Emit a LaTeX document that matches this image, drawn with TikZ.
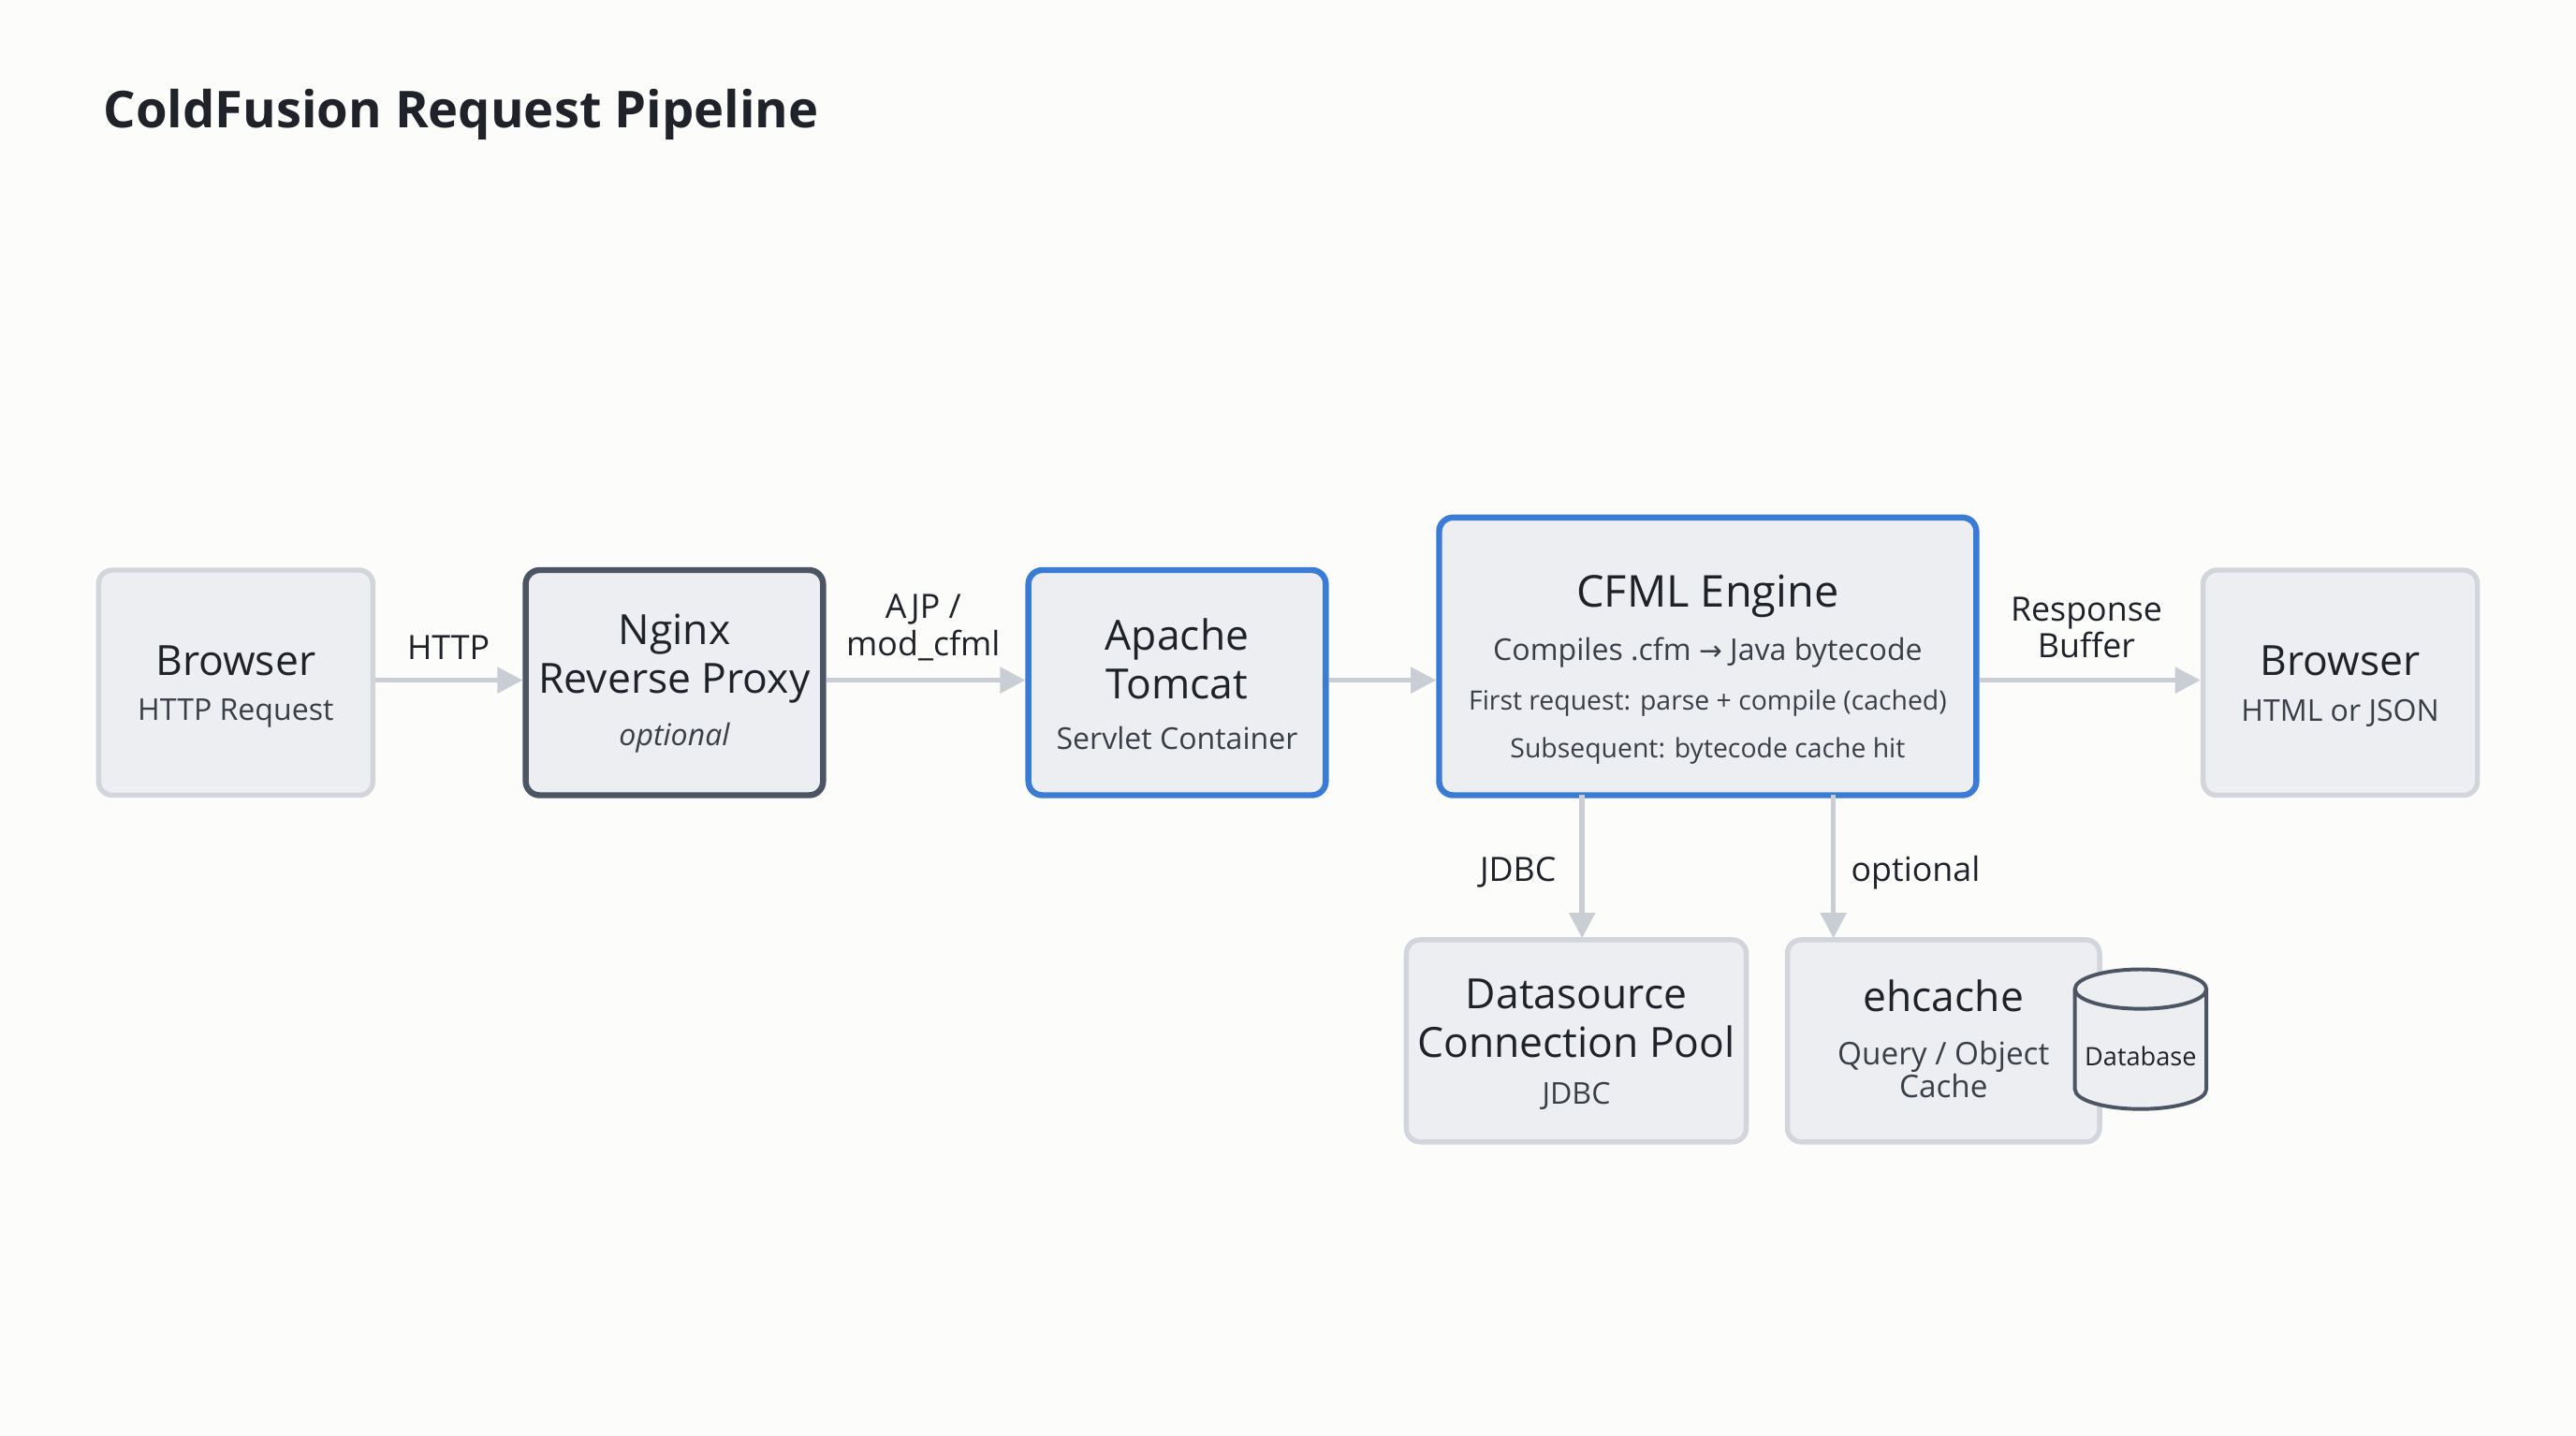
\documentclass[tikz,border=0pt]{standalone}
\usepackage{fontspec}
\setmainfont{Open Sans}
\usetikzlibrary{arrows.meta,shapes.geometric}
\definecolor{bg}{HTML}{FCFCFB}
\definecolor{boxfill}{HTML}{EDEEF1}
\definecolor{boxline}{HTML}{D2D5DB}
\definecolor{darkline}{HTML}{4B5563}
\definecolor{blueline}{HTML}{3A7BD5}
\definecolor{arrowc}{HTML}{C9CDD4}
\definecolor{txt}{HTML}{1F2329}
\definecolor{subtxt}{HTML}{3A3F47}
\tikzset{
  box/.style={draw=boxline,fill=boxfill,line width=2.2pt,rounded corners=6pt,inner sep=0},
  darkbox/.style={box,draw=darkline,line width=2.6pt},
  bluebox/.style={box,draw=blueline,line width=2.6pt},
  conn/.style={draw=arrowc,line width=2.2pt,-{Triangle[length=11pt,width=11pt]}},
  big/.style={font=\fontsize{18}{22}\selectfont\color{txt},align=center},
  sub/.style={font=\fontsize{13}{16}\selectfont\color{subtxt},align=center},
  small/.style={font=\fontsize{11.5}{14}\selectfont\color{subtxt},align=center},
  lab/.style={font=\fontsize{14.5}{18}\selectfont\color{txt},align=center},
}
\begin{document}
\begin{tikzpicture}[x=0.025cm,y=-0.025cm]
\useasboundingbox[fill=bg] (0,0) rectangle (1568,874);
\node[anchor=west,font=\fontsize{22}{26}\selectfont\bfseries\color{txt}] (title) at (58,70) {ColdFusion Request Pipeline};

\node[box,minimum width=167*0.025cm,minimum height=137*0.025cm] (b1) at (143.5,415.5) {};
\node[big] (b1t) at (143.5,402) {Browser};
\node[sub] (b1s) at (143.5,434) {HTTP Request};

\node[darkbox,minimum width=181*0.025cm,minimum height=137*0.025cm] (ng) at (410.5,415.5) {};
\node[big] (ngt) at (410.5,401) {Nginx\\[-1pt]Reverse Proxy};
\node[sub,font=\fontsize{13}{16}\selectfont\itshape\color{subtxt}] (ngs) at (410.5,449) {optional};

\node[bluebox,minimum width=181*0.025cm,minimum height=137*0.025cm] (tc) at (716.5,415.5) {};
\node[big] (tct) at (716.5,401) {Apache\\[-1pt]Tomcat};
\node[sub] (tcs) at (716.5,449) {Servlet Container};

\node[bluebox,minimum width=327*0.025cm,minimum height=169*0.025cm] (cf) at (1039.5,399.5) {};
\node[big,font=\fontsize{19}{22}\selectfont\color{txt}] (cft) at (1039.5,363) {CFML Engine};
\node[sub] (cfs) at (1039.5,397) {Compiles .cfm {\fontspec{DejaVu Sans}\fontsize{12}{14}\selectfont→} Java bytecode};
\node[small] (cf2) at (1039.5,428) {First request: parse + compile (cached)};
\node[small] (cf3) at (1039.5,457) {Subsequent: bytecode cache hit};

\node[box,minimum width=167*0.025cm,minimum height=137*0.025cm] (b2) at (1424.5,415.5) {};
\node[big] (b2t) at (1424.5,402) {Browser};
\node[sub] (b2s) at (1424.5,434) {HTML or JSON};

\node[box,minimum width=207*0.025cm,minimum height=123*0.025cm] (ds) at (959.5,633.5) {};
\node[big] (dst) at (959.5,620) {Datasource\\[-1pt]Connection Pool};
\node[sub] (dss) at (959.5,667) {JDBC};

\node[box,minimum width=190*0.025cm,minimum height=123*0.025cm] (eh) at (1183,633.5) {};
\node[big] (eht) at (1183,606) {ehcache};
\node[sub,font=\fontsize{13.5}{16}\selectfont\color{subtxt}] (ehs) at (1183,651) {Query / Object\\[-2pt]Cache};

% database cylinder
\fill[boxfill] (1263,602) -- (1263,663) arc[start angle=180,end angle=360,x radius=40,y radius=-12] -- (1343,602) -- cycle;
\fill[boxfill] (1303,602) ellipse[x radius=40,y radius=12];
\draw[darkline,line width=1.6pt] (1263,602) -- (1263,663) arc[start angle=180,end angle=360,x radius=40,y radius=-12] -- (1343,602);
\draw[darkline,line width=1.6pt] (1303,602) ellipse[x radius=40,y radius=12];
\node[font=\fontsize{11}{13}\selectfont\color{txt}] (dbt) at (1303,643) {Database};

\coordinate (ja) at (963,484);
\coordinate (jb) at (963,571);
\coordinate (oa) at (1116,484);
\coordinate (ob) at (1116,571);

\draw[conn] (b1.east |- 0,414) -- (ng.west |- 0,414);
\draw[conn] (ng.east |- 0,414) -- (tc.west |- 0,414);
\draw[conn] (tc.east |- 0,414) -- (cf.west |- 0,414);
\draw[conn] (cf.east |- 0,414) -- (b2.west |- 0,414);
\draw[conn] (ja) -- (jb);
\draw[conn] (oa) -- (ob);

\node[lab] (l1) at (273,394) {HTTP};
\node[lab] (l2) at (562,382) {AJP /\\[-2pt]mod\_cfml};
\node[lab] (l3) at (1270,382) {Response\\[-2pt]Buffer};
\node[lab] (l4) at (924,531) {JDBC};
\node[lab] (l5) at (1166,531) {optional};
\end{tikzpicture}
\end{document}
